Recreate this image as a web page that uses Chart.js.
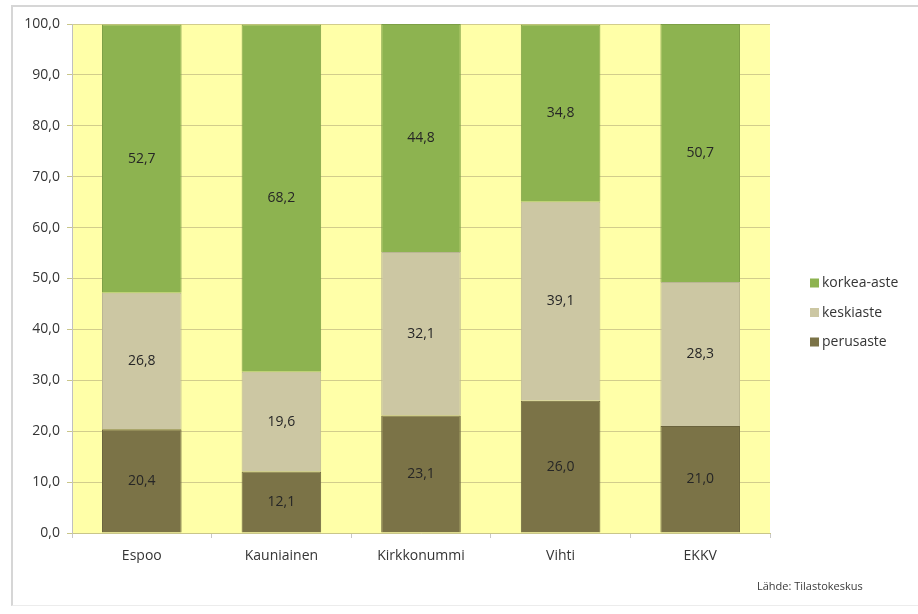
<!DOCTYPE html>
<html>
<head>
<meta charset="utf-8">
<script src="https://cdn.jsdelivr.net/npm/chart.js@4/dist/chart.umd.min.js"></script>
<style>
  body { margin: 0; background: #fff; width: 918px; height: 614px; overflow: hidden; font-family: 'Open Sans', sans-serif; }
  #frame { position: absolute; left: 11px; top: 5px; width: 905px; height: 598px; border-left: 2px solid #d6d6d6; border-top: 2px solid #d6d6d6; border-right: 1px solid #e6e6e6; border-bottom: 1px solid #ececec; }
  #wrap { position: absolute; left: 0; top: 0; width: 905px; height: 598px; }
  #source { position: absolute; left: 744px; top: 571px; font-size: 11px; color: #3a3a3a; }
</style>
</head>
<body>
<div id="frame">
  <div id="wrap"><canvas id="chart"></canvas></div>
  <div id="source">Lähde: Tilastokeskus</div>
</div>
<script>
const categories = ['Espoo', 'Kauniainen', 'Kirkkonummi', 'Vihti', 'EKKV'];
const perusaste = [20.4, 12.1, 23.1, 26.0, 21.0];
const keskiaste = [26.8, 19.6, 32.1, 39.1, 28.3];
const korkeaAste = [52.7, 68.2, 44.8, 34.8, 50.7];
const yTicks = [0, 10, 20, 30, 40, 50, 60, 70, 80, 90, 100];

const FONT = '"Open Sans", Lato, sans-serif';
const TEXT = '#353535';

function fmt(v) {
  return v.toFixed(1).replace('.', ',');
}

// yellow plot background
const plotBg = {
  id: 'plotBg',
  beforeDraw(chart) {
    const { ctx, chartArea: a } = chart;
    ctx.save();
    ctx.fillStyle = '#ffffa8';
    ctx.fillRect(a.left, a.top, a.right - a.left, a.bottom - a.top);
    ctx.restore();
  },
};

// value labels centred in each segment
const valueLabels = {
  id: 'valueLabels',
  afterDatasetsDraw(chart) {
    const { ctx } = chart;
    ctx.save();
    ctx.font = '14px ' + FONT;
    ctx.fillStyle = '#262626';
    ctx.textAlign = 'center';
    ctx.textBaseline = 'middle';
    chart.data.datasets.forEach((ds, i) => {
      const meta = chart.getDatasetMeta(i);
      meta.data.forEach((bar, j) => {
        ctx.fillText(fmt(ds.data[j]), bar.x, (bar.y + bar.base) / 2);
      });
    });
    ctx.restore();
  },
};

// legend on the right, top item = last dataset
const sideLegend = {
  id: 'sideLegend',
  afterDraw(chart) {
    const { ctx, chartArea: a } = chart;
    const x = a.right + 40;
    let y = (a.top + a.bottom) / 2 + 5;
    ctx.save();
    ctx.font = '14px ' + FONT;
    ctx.textBaseline = 'middle';
    ctx.textAlign = 'left';
    const items = [...chart.data.datasets].reverse();
    items.forEach((ds) => {
      ctx.fillStyle = ds.backgroundColor;
      ctx.fillRect(x, y - 5, 9, 9);
      ctx.fillStyle = TEXT;
      ctx.fillText(ds.label, x + 12, y);
      y += 29.5;
    });
    ctx.restore();
  },
};

const data = {
  labels: categories,
  datasets: [
    { label: 'perusaste', data: perusaste, backgroundColor: '#7b7347', borderColor: '#6a633d', borderWidth: 1 },
    { label: 'keskiaste', data: keskiaste, backgroundColor: '#ccc7a3', borderColor: '#bab593', borderWidth: 1 },
    { label: 'korkea-aste', data: korkeaAste, backgroundColor: '#8db350', borderColor: '#7d9f46', borderWidth: 1 },
  ],
};

const options = {
  responsive: true,
  maintainAspectRatio: false,
  animation: false,
  datasets: { bar: { categoryPercentage: 1, barPercentage: 0.57 } },
  layout: { padding: { top: 17, bottom: 42, left: 0, right: 148 } },
  plugins: {
    tooltip: { enabled: false },
    legend: { display: false },
  },
  scales: {
    x: {
      stacked: true,
      grid: { display: true, drawOnChartArea: false, drawTicks: true, tickLength: 5, offset: true, tickColor: '#c8c8c8' },
      border: { color: '#c9c68a' },
      ticks: { color: TEXT, padding: 10, font: { family: FONT, size: 14 } },
      afterFit: (s) => { s.height = 30; },
    },
    y: {
      stacked: true,
      min: 0,
      max: 100,
      afterBuildTicks: (s) => { s.ticks = yTicks.map((v) => ({ value: v })); },
      grid: { color: '#d2cd8c', tickLength: 5, drawTicks: true, tickColor: '#c9c68a' },
      border: { color: '#c0c0c0' },
      ticks: {
        color: TEXT,
        padding: 7,
        font: { family: FONT, size: 14 },
        callback: (v) => fmt(v),
      },
      afterFit: (s) => { s.width = 59; },
    },
  },
};

new Chart(document.getElementById('chart'), { type: 'bar', data, options, plugins: [plotBg, valueLabels, sideLegend] });
</script>
</body>
</html>
